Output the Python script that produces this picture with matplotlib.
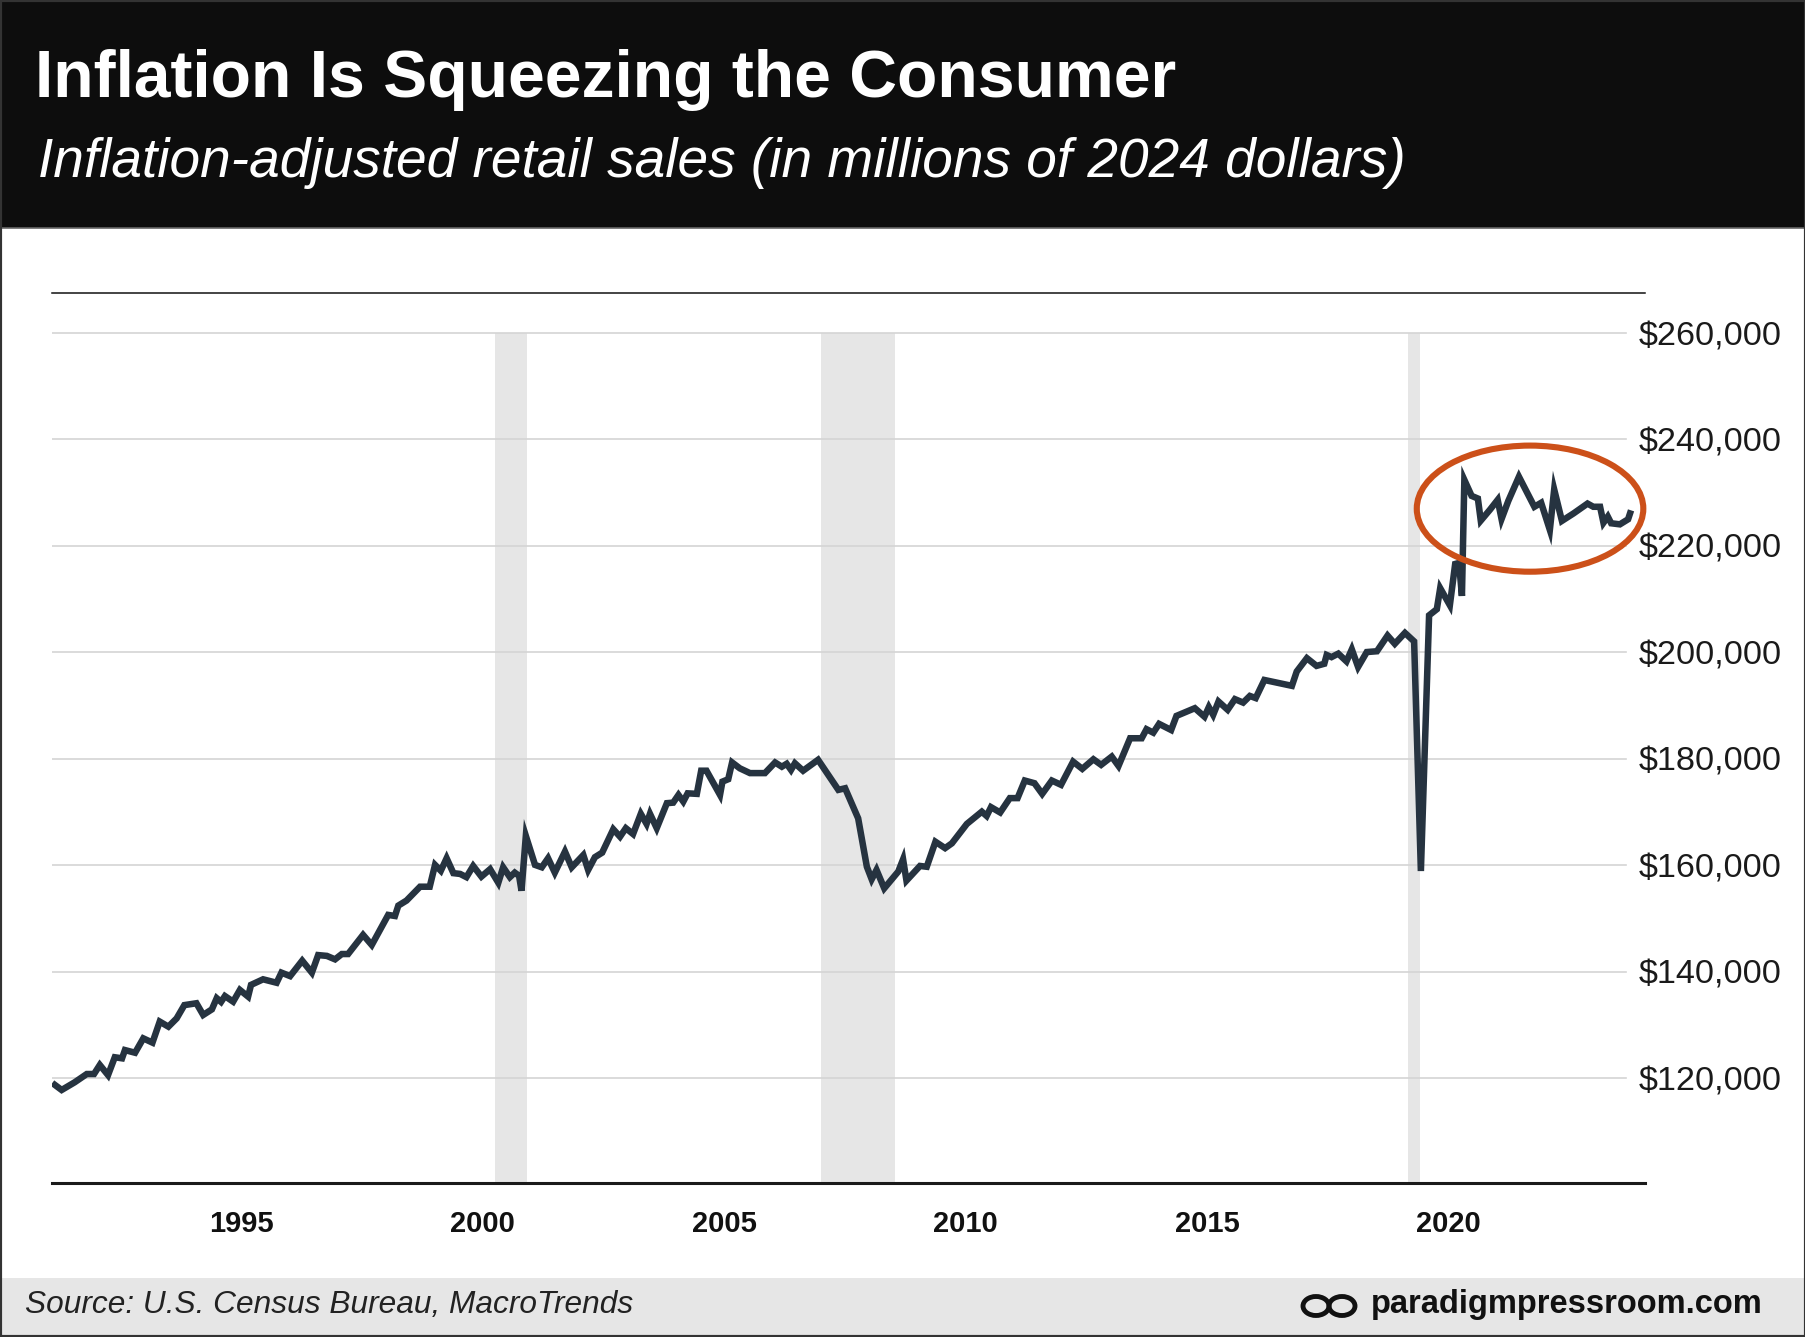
import matplotlib
matplotlib.use("Agg")
import matplotlib.pyplot as plt
from matplotlib.patches import Rectangle, Ellipse

plt.rcParams['font.family'] = ['Liberation Sans', 'DejaVu Sans']

# retail sales, millions of 2024 dollars (decimal years)
years = [1992.06, 1992.20, 1992.47, 1992.72, 1992.87, 1992.99, 1993.16, 1993.30, 1993.45, 1993.51,
         1993.72, 1993.89, 1994.08, 1994.23, 1994.41, 1994.58, 1994.74, 1994.99, 1995.13, 1995.31,
         1995.41, 1995.50, 1995.58, 1995.75, 1995.89, 1996.06, 1996.12, 1996.37, 1996.65, 1996.75,
         1996.93, 1997.18, 1997.38, 1997.51, 1997.69, 1997.86, 1998.00, 1998.13, 1998.44, 1998.62,
         1998.96, 1999.10, 1999.17, 1999.34, 1999.62, 1999.82, 1999.93, 2000.05, 2000.17, 2000.31,
         2000.45, 2000.58, 2000.72, 2000.89, 2001.07, 2001.24, 2001.34, 2001.48, 2001.58, 2001.67,
         2001.72, 2001.81, 2002.00, 2002.14, 2002.27, 2002.41, 2002.62, 2002.76, 2003.00, 2003.10,
         2003.24, 2003.39, 2003.62, 2003.76, 2003.88, 2004.03, 2004.19, 2004.31, 2004.38, 2004.52,
         2004.73, 2004.86, 2004.97, 2005.07, 2005.16, 2005.35, 2005.44, 2005.55, 2005.83, 2005.88,
         2006.00, 2006.08, 2006.24, 2006.45, 2006.76, 2006.97, 2007.11, 2007.21, 2007.30, 2007.38,
         2007.55, 2007.86, 2008.28, 2008.42, 2008.69, 2008.87, 2008.97, 2009.07, 2009.23, 2009.52,
         2009.62, 2009.69, 2009.97, 2010.11, 2010.29, 2010.49, 2010.63, 2010.94, 2011.25, 2011.35,
         2011.44, 2011.63, 2011.83, 2011.99, 2012.14, 2012.34, 2012.50, 2012.70, 2012.89, 2013.14,
         2013.33, 2013.56, 2013.72, 2013.94, 2014.08, 2014.32, 2014.56, 2014.66, 2014.80, 2014.92,
         2015.17, 2015.28, 2015.66, 2015.86, 2015.95, 2016.04, 2016.15, 2016.34, 2016.49, 2016.66,
         2016.80, 2016.92, 2017.10, 2017.67, 2017.77, 2017.98, 2018.18, 2018.34, 2018.39, 2018.49,
         2018.63, 2018.80, 2018.91, 2019.04, 2019.22, 2019.43, 2019.65, 2019.80, 2020.01, 2020.20,
         2020.34, 2020.51, 2020.67, 2020.74, 2020.94, 2021.05, 2021.13, 2021.19, 2021.24, 2021.39,
         2021.52, 2021.58, 2021.77, 2021.93, 2022.01, 2022.15, 2022.37, 2022.69, 2022.83, 2023.01,
         2023.10, 2023.26, 2023.50, 2023.79, 2023.91, 2024.05, 2024.12, 2024.21, 2024.28, 2024.46,
         2024.63, 2024.67]
sales = [118700, 117750, 119200, 120750, 120750, 122450, 120550, 123900, 123700, 125250,
         124750, 127450, 126650, 130600, 129650, 131200, 133700, 134050, 131850, 132900,
         135000, 134300, 135400, 134350, 136550, 135300, 137500, 138550, 137900, 139800,
         139150, 142050, 139800, 143100, 142950, 142300, 143300, 143300, 146900, 145000,
         150650, 150450, 152400, 153350, 155950, 155950, 160050, 158950, 161300, 158500,
         158350, 157750, 159850, 157850, 159250, 156700, 159600, 157750, 158600, 158000,
         155200, 165500, 160050, 159600, 161300, 158600, 162550, 159600, 161900, 159100,
         161500, 162350, 166750, 165350, 166950, 165850, 169650, 167750, 169650, 166950,
         171650, 171750, 173200, 171950, 173500, 173400, 177750, 177750, 173200, 175700,
         176150, 179300, 178200, 177300, 177300, 179300, 178500, 179050, 177900, 179150,
         177750, 179800, 174150, 174450, 168800, 159700, 157350, 159100, 155650, 158800,
         161100, 157100, 159850, 159700, 164400, 163200, 164100, 167750, 170050, 169250,
         170900, 169900, 172600, 172600, 175900, 175400, 173400, 175900, 175100, 179450,
         178100, 179900, 178850, 180400, 178650, 183850, 183850, 185550, 184900, 186550,
         185400, 188050, 189500, 187900, 189700, 188250, 190750, 189200, 191200, 190550,
         191800, 191400, 194800, 193700, 196400, 198900, 197450, 197850, 199500, 199100,
         199750, 198300, 200550, 197250, 200050, 200200, 203150, 201600, 203650, 202050,
         158900, 206950, 208100, 212050, 208850, 216600, 216800, 210600, 232400, 229400,
         228900, 224750, 226800, 228650, 225050, 228450, 233000, 227350, 228100, 223000,
         230600, 224700, 226100, 227950, 227350, 227350, 224350, 225500, 224250, 224050,
         225000, 226100]

recessions = [(2001.17, 2001.83), (2007.92, 2009.45), (2020.08, 2020.33)]
tick_years = [1995, 2000, 2005, 2010, 2015, 2020]
y_ticks = [120000, 140000, 160000, 180000, 200000, 220000, 240000, 260000]

W, H = 1806, 1337
fig = plt.figure(figsize=(W / 100, H / 100), dpi=100)
fig.patch.set_facecolor('white')

# header and footer bands
fig.patches.append(Rectangle((0, 1 - 228 / H), 1, 228 / H, transform=fig.transFigure,
                             facecolor='#0d0d0d', edgecolor='none', zorder=0))
fig.patches.append(Rectangle((0, 0), 1, 59 / H, transform=fig.transFigure,
                             facecolor='#e6e6e6', edgecolor='none', zorder=0))
fig.lines.append(plt.Line2D([0, 1], [1 - 228 / H, 1 - 228 / H], transform=fig.transFigure,
                            color='#666666', lw=1.2))
fig.patches.append(Rectangle((0, 0), 1, 1, transform=fig.transFigure,
                             facecolor='none', edgecolor='#333333', lw=3, zorder=10))

fig.text(0.0195, 1 - 97 / H, 'Inflation Is Squeezing the Consumer', color='white',
         fontsize=47.5, fontweight='bold', va='baseline', ha='left')
fig.text(0.021, 1 - 177 / H, 'Inflation-adjusted retail sales (in millions of 2024 dollars)',
         color='white', fontsize=39.6, fontstyle='italic', va='baseline', ha='left')

fig.text(25 / W, 1 - 1313 / H, 'Source: U.S. Census Bureau, MacroTrends', color='#222222',
         fontsize=22.8, fontstyle='italic', va='baseline', ha='left')
fig.text(1763 / W, 1 - 1313 / H, 'paradigmpressroom.com', color='#111111',
         fontsize=23.5, fontweight='bold', va='baseline', ha='right')
for cx in (1316, 1342):
    fig.patches.append(Ellipse((cx / W, 1 - 1306 / H), 26 / W, 19 / H, transform=fig.transFigure,
                               facecolor='none', edgecolor='#111111', lw=3.5))

# main axes
ax = fig.add_axes([52 / W, 1 - 1183 / H, (1645 - 52) / W, (1183 - 292.6) / H])
ax.set_xlim(1992.0, 2024.98)
ax.set_ylim(100270, 267600)

for start, end in recessions:
    ax.fill_between([start, end], 100270, 260000, color='#e6e6e6', lw=0, zorder=1)

for v in y_ticks:
    ax.axhline(v, xmin=0, xmax=0.988, color='#d4d4d4', lw=1.2, zorder=2)

ax.plot(years, sales, color='#263340', lw=4.7, solid_joinstyle='miter', zorder=3)

ax.add_patch(Ellipse((2022.6, 227000), 4.69, 23700, facecolor='none',
                     edgecolor='#cc5019', lw=4.4, zorder=4, clip_on=False))

ax.set_xticks([y + 11 / 12 for y in tick_years], [str(y) for y in tick_years])
ax.set_yticks(y_ticks, ['${:,}'.format(v) for v in y_ticks])
ax.yaxis.tick_right()
ax.tick_params(axis='x', length=0, pad=19.5, labelsize=21, labelcolor='#111111')
ax.tick_params(axis='y', length=0, pad=98.6, labelsize=24.7, labelcolor='#1a1a1a')
for lab in ax.get_xticklabels():
    lab.set_fontweight('bold')
for lab in ax.get_yticklabels():
    lab.set_ha('right')

for side in ('left', 'right'):
    ax.spines[side].set_visible(False)
ax.spines['top'].set_color('#111111')
ax.spines['top'].set_linewidth(1.1)
ax.spines['bottom'].set_color('#1a1a1a')
ax.spines['bottom'].set_linewidth(2.2)
ax.patch.set_alpha(0)

fig.savefig('out.png', dpi=100)
